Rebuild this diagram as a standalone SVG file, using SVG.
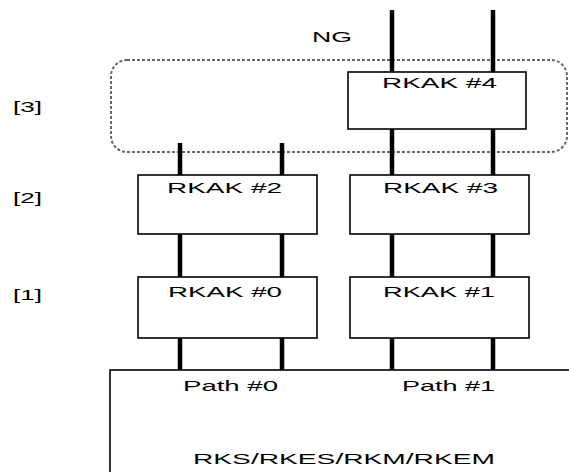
<svg xmlns="http://www.w3.org/2000/svg" width="569" height="472" viewBox="0 0 569 472">
<style>
.box{fill:#fff;stroke:#000;stroke-width:1.6}
.bus{stroke:#000;stroke-width:4.5;fill:none}
.t{font-family:"Liberation Sans",Arial,sans-serif;font-size:15px;fill:#000}
.grp{fill:none;stroke:#666;stroke-width:2;stroke-dasharray:3 2}
</style>
<rect width="569" height="472" fill="#fff"/>
<g id="group3">
<rect class="grp" x="111" y="60" width="456" height="92" rx="16"/>
</g>
<g id="connectors">
<line class="bus" x1="392" y1="10" x2="392" y2="72"/>
<line class="bus" x1="493" y1="10" x2="493" y2="72"/>
<line class="bus" x1="392" y1="129" x2="392" y2="175"/>
<line class="bus" x1="493" y1="129" x2="493" y2="175"/>
<line class="bus" x1="180" y1="143" x2="180" y2="175"/>
<line class="bus" x1="282" y1="143" x2="282" y2="175"/>
<line class="bus" x1="180" y1="234" x2="180" y2="277"/>
<line class="bus" x1="282" y1="234" x2="282" y2="277"/>
<line class="bus" x1="392" y1="234" x2="392" y2="277"/>
<line class="bus" x1="493" y1="234" x2="493" y2="277"/>
<line class="bus" x1="180" y1="338" x2="180" y2="370"/>
<line class="bus" x1="282" y1="338" x2="282" y2="370"/>
<line class="bus" x1="392" y1="338" x2="392" y2="370"/>
<line class="bus" x1="493" y1="338" x2="493" y2="370"/>
</g>
<g id="labels">
<text class="t" x="312" y="42" textLength="40" lengthAdjust="spacingAndGlyphs">NG</text>
<text class="t" x="13" y="112" textLength="29" lengthAdjust="spacingAndGlyphs">[3]</text>
<text class="t" x="13" y="203" textLength="29" lengthAdjust="spacingAndGlyphs">[2]</text>
<text class="t" x="13" y="300" textLength="29" lengthAdjust="spacingAndGlyphs">[1]</text>
</g>
<g id="rkak4">
<rect class="box" x="348" y="72" width="178" height="57"/>
<text class="t" x="382" y="88" textLength="115" lengthAdjust="spacingAndGlyphs">RKAK #4</text>
</g>
<g id="rkak2">
<rect class="box" x="138" y="175" width="179" height="59"/>
<text class="t" x="167" y="193" textLength="115" lengthAdjust="spacingAndGlyphs">RKAK #2</text>
</g>
<g id="rkak3">
<rect class="box" x="350" y="175" width="179" height="59"/>
<text class="t" x="383" y="193" textLength="115" lengthAdjust="spacingAndGlyphs">RKAK #3</text>
</g>
<g id="rkak0">
<rect class="box" x="138" y="277" width="179" height="61"/>
<text class="t" x="168" y="297" textLength="114" lengthAdjust="spacingAndGlyphs">RKAK #0</text>
</g>
<g id="rkak1">
<rect class="box" x="350" y="277" width="179" height="61"/>
<text class="t" x="383" y="297" textLength="112" lengthAdjust="spacingAndGlyphs">RKAK #1</text>
</g>
<g id="rks">
<rect class="box" x="110" y="370" width="470" height="120"/>
<text class="t" x="183" y="391" textLength="95" lengthAdjust="spacingAndGlyphs">Path #0</text>
<text class="t" x="402" y="391" textLength="93" lengthAdjust="spacingAndGlyphs">Path #1</text>
<text class="t" x="193" y="464" textLength="302" lengthAdjust="spacingAndGlyphs">RKS/RKES/RKM/RKEM</text>
</g>
</svg>
